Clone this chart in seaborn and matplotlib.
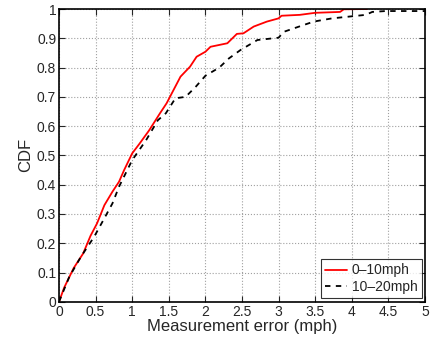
import seaborn as sns
import matplotlib.pyplot as plt
import pandas as pd

# CDF points
err_low = [0, 0.07, 0.2, 0.33, 0.43, 0.52, 0.62, 0.73, 0.82, 0.89, 1.0, 1.1, 1.23, 1.38, 1.47,
           1.66, 1.79, 1.88, 2.0, 2.07, 2.3, 2.43, 2.52, 2.66, 2.84, 3.0, 3.04, 3.29, 3.5,
           3.84, 3.89, 4.21]
cdf_low = [0, 0.048, 0.115, 0.165, 0.225, 0.268, 0.33, 0.376, 0.41, 0.45, 0.507, 0.54, 0.585,
           0.644, 0.678, 0.769, 0.803, 0.837, 0.854, 0.871, 0.883, 0.915, 0.917, 0.94, 0.957,
           0.968, 0.977, 0.98, 0.987, 0.99, 0.999, 1.0]

err_high = [0, 0.14, 0.3, 0.48, 0.63, 0.73, 0.82, 1.0, 1.19, 1.35, 1.46, 1.59, 1.73, 1.87, 2.0,
            2.19, 2.32, 2.48, 2.71, 3.0, 3.07, 3.28, 3.48, 3.73, 4.19, 4.28, 4.46, 5.0]
cdf_high = [0, 0.085, 0.154, 0.222, 0.29, 0.336, 0.393, 0.484, 0.552, 0.62, 0.644, 0.695, 0.7,
            0.735, 0.772, 0.8, 0.831, 0.86, 0.894, 0.902, 0.922, 0.94, 0.957, 0.968, 0.98, 0.99,
            0.993, 0.993]

labels = ['0\u201310mph', '10\u201320mph']

sns.set_style('white')
plt.rcParams['font.family'] = ['Liberation Sans', 'DejaVu Sans']

fig = plt.figure(figsize=(4.45, 3.41), dpi=100)
ax = fig.add_axes([0.1326, 0.115, 0.8224, 0.8586])

sns.lineplot(x=err_low, y=cdf_low, ax=ax, color='#ff0000', lw=1.3, label=labels[0], sort=False)
sns.lineplot(x=err_high, y=cdf_high, ax=ax, color='black', lw=1.3, linestyle=(0, (3, 3)),
             label=labels[1], sort=False)

ax.set_xlim(0, 5)
ax.set_ylim(0, 1)
ax.set_xticks([0, 0.5, 1, 1.5, 2, 2.5, 3, 3.5, 4, 4.5, 5])
ax.set_xticklabels(['0', '0.5', '1', '1.5', '2', '2.5', '3', '3.5', '4', '4.5', '5'])
ax.set_yticks([i / 10 for i in range(11)])
ax.set_yticklabels(['0', '0.1', '0.2', '0.3', '0.4', '0.5', '0.6', '0.7', '0.8', '0.9', '1'])
ax.grid(True, linestyle=':', color='#a0a0a0', lw=0.8)
ax.tick_params(direction='in', length=4, width=0.8, labelsize=10, pad=2,
               top=True, right=True, bottom=True, left=True)
for s in ax.spines.values():
    s.set_color('black')
    s.set_linewidth(1.2)

ax.set_xlabel('Measurement error (mph)', fontsize=12, labelpad=0)
ax.set_ylabel('CDF', fontsize=12, labelpad=3)

leg = ax.legend(loc='lower right', fontsize=10, frameon=True, fancybox=False, handlelength=1.6,
                handletextpad=0.3, borderpad=0.3, labelspacing=0.2, borderaxespad=0.25)
leg.get_frame().set_edgecolor('black')
leg.get_frame().set_linewidth(0.8)

fig.savefig('out.png', dpi=100)
